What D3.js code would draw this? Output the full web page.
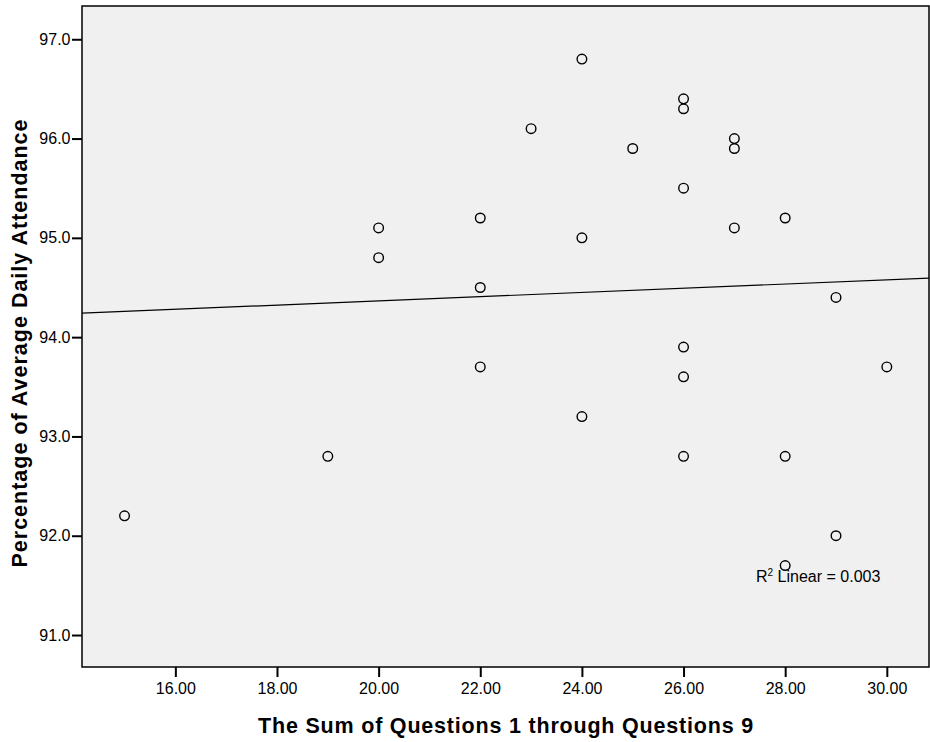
<!DOCTYPE html>
<html>
<head>
<meta charset="utf-8">
<script src="https://cdn.jsdelivr.net/npm/d3@7"></script>
<style>
  body { margin: 0; background: #fff; }
  svg text { font-family: "Liberation Sans", Arial, sans-serif; }
</style>
</head>
<body>
<svg id="chart" width="930" height="742"></svg>
<script>
// sum of questions 1-9 and attendance
var sumScores = [15, 19, 20, 20, 22, 22, 22, 23, 24, 24, 24, 25, 26, 26, 26, 26, 26, 26, 27, 27, 27, 28, 28, 28, 29, 29, 30];
var attendance = [92.2, 92.8, 95.1, 94.8, 95.2, 94.5, 93.7, 96.1, 96.8, 95.0, 93.2, 95.9, 96.4, 96.3, 95.5, 93.9, 93.6, 92.8, 96.0, 95.9, 95.1, 95.2, 92.8, 91.7, 94.4, 92.0, 93.7];
var xTicks = [16, 18, 20, 22, 24, 26, 28, 30];
var yTicks = [91, 92, 93, 94, 95, 96, 97];

var margin = {top: 6, right: 1, bottom: 75, left: 82};
var width = 930 - margin.left - margin.right;
var height = 742 - margin.top - margin.bottom;

var svg = d3.select("#chart");
var g = svg.append("g")
    .attr("transform", "translate(" + margin.left + "," + margin.top + ")");

var x = d3.scaleLinear().domain([14.163, 30.83]).range([0, width]);
var y = d3.scaleLinear().domain([90.678, 97.335]).range([height, 0]);

g.append("rect")
    .attr("width", width)
    .attr("height", height)
    .attr("fill", "#f0f0f0");

// least squares fit
var n = sumScores.length;
var mx = d3.mean(sumScores), my = d3.mean(attendance);
var sxy = 0, sxx = 0, syy = 0;
for (var i = 0; i < n; i++) {
    sxy += (sumScores[i] - mx) * (attendance[i] - my);
    sxx += (sumScores[i] - mx) * (sumScores[i] - mx);
    syy += (attendance[i] - my) * (attendance[i] - my);
}
var slope = sxy / sxx;
var intercept = my - slope * mx;
var r2 = (sxy * sxy) / (sxx * syy);

var xd = x.domain();
g.append("line")
    .attr("x1", x(xd[0])).attr("y1", y(intercept + slope * xd[0]))
    .attr("x2", x(xd[1])).attr("y2", y(intercept + slope * xd[1]))
    .attr("stroke", "#000")
    .attr("stroke-width", 1.2);

g.selectAll("circle.pt")
    .data(d3.range(n))
    .enter().append("circle")
    .attr("class", "pt")
    .attr("cx", function(i) { return x(sumScores[i]); })
    .attr("cy", function(i) { return y(attendance[i]); })
    .attr("r", 4.8)
    .attr("fill", "none")
    .attr("stroke", "#000")
    .attr("stroke-width", 1.4);

var xAxis = d3.axisBottom(x).tickValues(xTicks)
    .tickFormat(d3.format(".2f")).tickSize(10).tickSizeOuter(0);
var yAxis = d3.axisLeft(y).tickValues(yTicks)
    .tickFormat(d3.format(".1f")).tickSize(10).tickSizeOuter(0);

var gx = g.append("g").attr("transform", "translate(0," + height + ")").call(xAxis);
var gy = g.append("g").call(yAxis);
[gx, gy].forEach(function(a) {
    a.select(".domain").remove();
    a.selectAll(".tick line").attr("stroke", "#000").attr("stroke-width", 2);
    a.selectAll(".tick text").attr("fill", "#000")
        .style("font-family", "'Liberation Sans', Arial, sans-serif")
        .style("font-size", "16px");
});
gx.selectAll(".tick text").attr("y", 13).attr("dy", "0.9em");
gy.selectAll(".tick text").attr("x", -11.5);

g.append("rect")
    .attr("width", width)
    .attr("height", height)
    .attr("fill", "none")
    .attr("stroke", "#000")
    .attr("stroke-width", 1.5);

var r2Label = g.append("text")
    .attr("x", 674)
    .attr("y", 576)
    .style("font-size", "16px")
    .attr("fill", "#000");
r2Label.append("tspan").text("R");
r2Label.append("tspan").attr("dy", -6).style("font-size", "10px").text("2");
r2Label.append("tspan").attr("dy", 6).text(" Linear = " + d3.format(".3f")(r2));

svg.append("text")
    .attr("x", 506)
    .attr("y", 733)
    .attr("text-anchor", "middle")
    .style("font-size", "21.5px")
    .style("font-weight", "bold")
    .style("letter-spacing", "0.8px")
    .text("The Sum of Questions 1 through Questions 9");

svg.append("text")
    .attr("transform", "translate(27,343) rotate(-90)")
    .attr("text-anchor", "middle")
    .style("font-size", "21.5px")
    .style("font-weight", "bold")
    .style("letter-spacing", "1px")
    .text("Percentage of Average Daily Attendance");
</script>
</body>
</html>
